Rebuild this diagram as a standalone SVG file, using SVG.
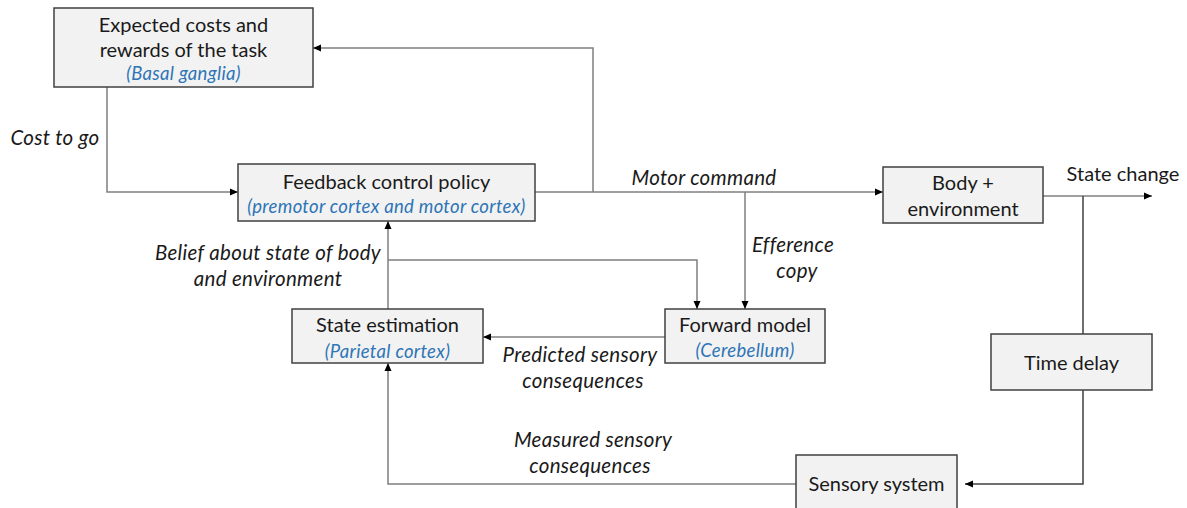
<svg xmlns="http://www.w3.org/2000/svg" width="1187" height="508" viewBox="0 0 1187 508">
<style>
.box{fill:#f2f2f2;stroke:#404040;stroke-width:1.5}
.t{font-family:Lato,"Liberation Sans",sans-serif;font-size:20px;fill:#1a1a1a;text-anchor:middle}
.b{font-family:Lato,"Liberation Sans",sans-serif;font-size:18.5px;letter-spacing:0.3px;font-style:italic;fill:#2e75b6;text-anchor:middle}
.l{font-family:Lato,"Liberation Sans",sans-serif;font-size:20.5px;letter-spacing:0.3px;font-style:italic;fill:#1a1a1a;text-anchor:middle}
.c{fill:none;stroke:#7f7f7f;stroke-width:1.5}
.d{fill:none;stroke:#404040;stroke-width:1.5}
</style>
<defs>
<marker id="ah" viewBox="0 0 8 8" refX="8" refY="4" markerWidth="8" markerHeight="8" markerUnits="userSpaceOnUse" orient="auto">
<path d="M0,0.5 L8,4 L0,7.5 Z" fill="#000"/>
</marker>
</defs>
<rect width="1187" height="508" fill="#fff"/>
<g id="connectors">
<path class="c" d="M107,87 V192 H238" marker-end="url(#ah)"/>
<path class="c" d="M535,192 H883" marker-end="url(#ah)"/>
<path class="c" d="M593,192 V48 H313" marker-end="url(#ah)"/>
<path class="c" d="M745,192 V309" marker-end="url(#ah)"/>
<path class="c" d="M388,309 V221" marker-end="url(#ah)"/>
<path class="c" d="M388,260 H697 V309" marker-end="url(#ah)"/>
<path class="c" d="M665,337 H483" marker-end="url(#ah)"/>
<path class="c" d="M1043,196 H1152" marker-end="url(#ah)"/>
<path class="d" d="M1083,196 V334"/>
<path class="d" d="M1083,390 V484 H965" marker-end="url(#ah)"/>
<path class="c" d="M796,484 H388 V363" marker-end="url(#ah)"/>
</g>
<g id="expected">
<rect class="box" x="54" y="8" width="259" height="79"/>
<text class="t" x="183.5" y="32">Expected costs and</text>
<text class="t" x="183.5" y="57">rewards of the task</text>
<text class="b" x="183.5" y="80">(Basal ganglia)</text>
</g>
<g id="feedback">
<rect class="box" x="238" y="164" width="297" height="57"/>
<text class="t" x="386.5" y="189">Feedback control policy</text>
<text class="b" x="386.5" y="213">(premotor cortex and motor cortex)</text>
</g>
<g id="body">
<rect class="box" x="883" y="167" width="160" height="56"/>
<text class="t" x="963" y="190">Body +</text>
<text class="t" x="963" y="216">environment</text>
</g>
<g id="state">
<rect class="box" x="292" y="309" width="191" height="54"/>
<text class="t" x="387.5" y="332">State estimation</text>
<text class="b" x="387.5" y="358">(Parietal cortex)</text>
</g>
<g id="forward">
<rect class="box" x="665" y="309" width="160" height="54"/>
<text class="t" x="745" y="332">Forward model</text>
<text class="b" x="745" y="357">(Cerebellum)</text>
</g>
<g id="timedelay">
<rect class="box" x="991" y="334" width="161" height="56"/>
<text class="t" x="1071.5" y="370">Time delay</text>
</g>
<g id="sensory">
<rect class="box" x="796" y="455" width="161" height="60"/>
<text class="t" x="876.5" y="491">Sensory system</text>
</g>
<g id="labels">
<text class="l" x="55" y="145">Cost to go</text>
<text class="l" x="704" y="185">Motor command</text>
<text class="t" x="1123" y="181">State change</text>
<text class="l" x="793" y="252">Efference</text>
<text class="l" x="797" y="278">copy</text>
<text class="l" x="268" y="260">Belief about state of body</text>
<text class="l" x="268" y="286">and environment</text>
<text class="l" x="580" y="362">Predicted sensory</text>
<text class="l" x="583" y="388">consequences</text>
<text class="l" x="593" y="447">Measured sensory</text>
<text class="l" x="590" y="473">consequences</text>
</g>
</svg>
